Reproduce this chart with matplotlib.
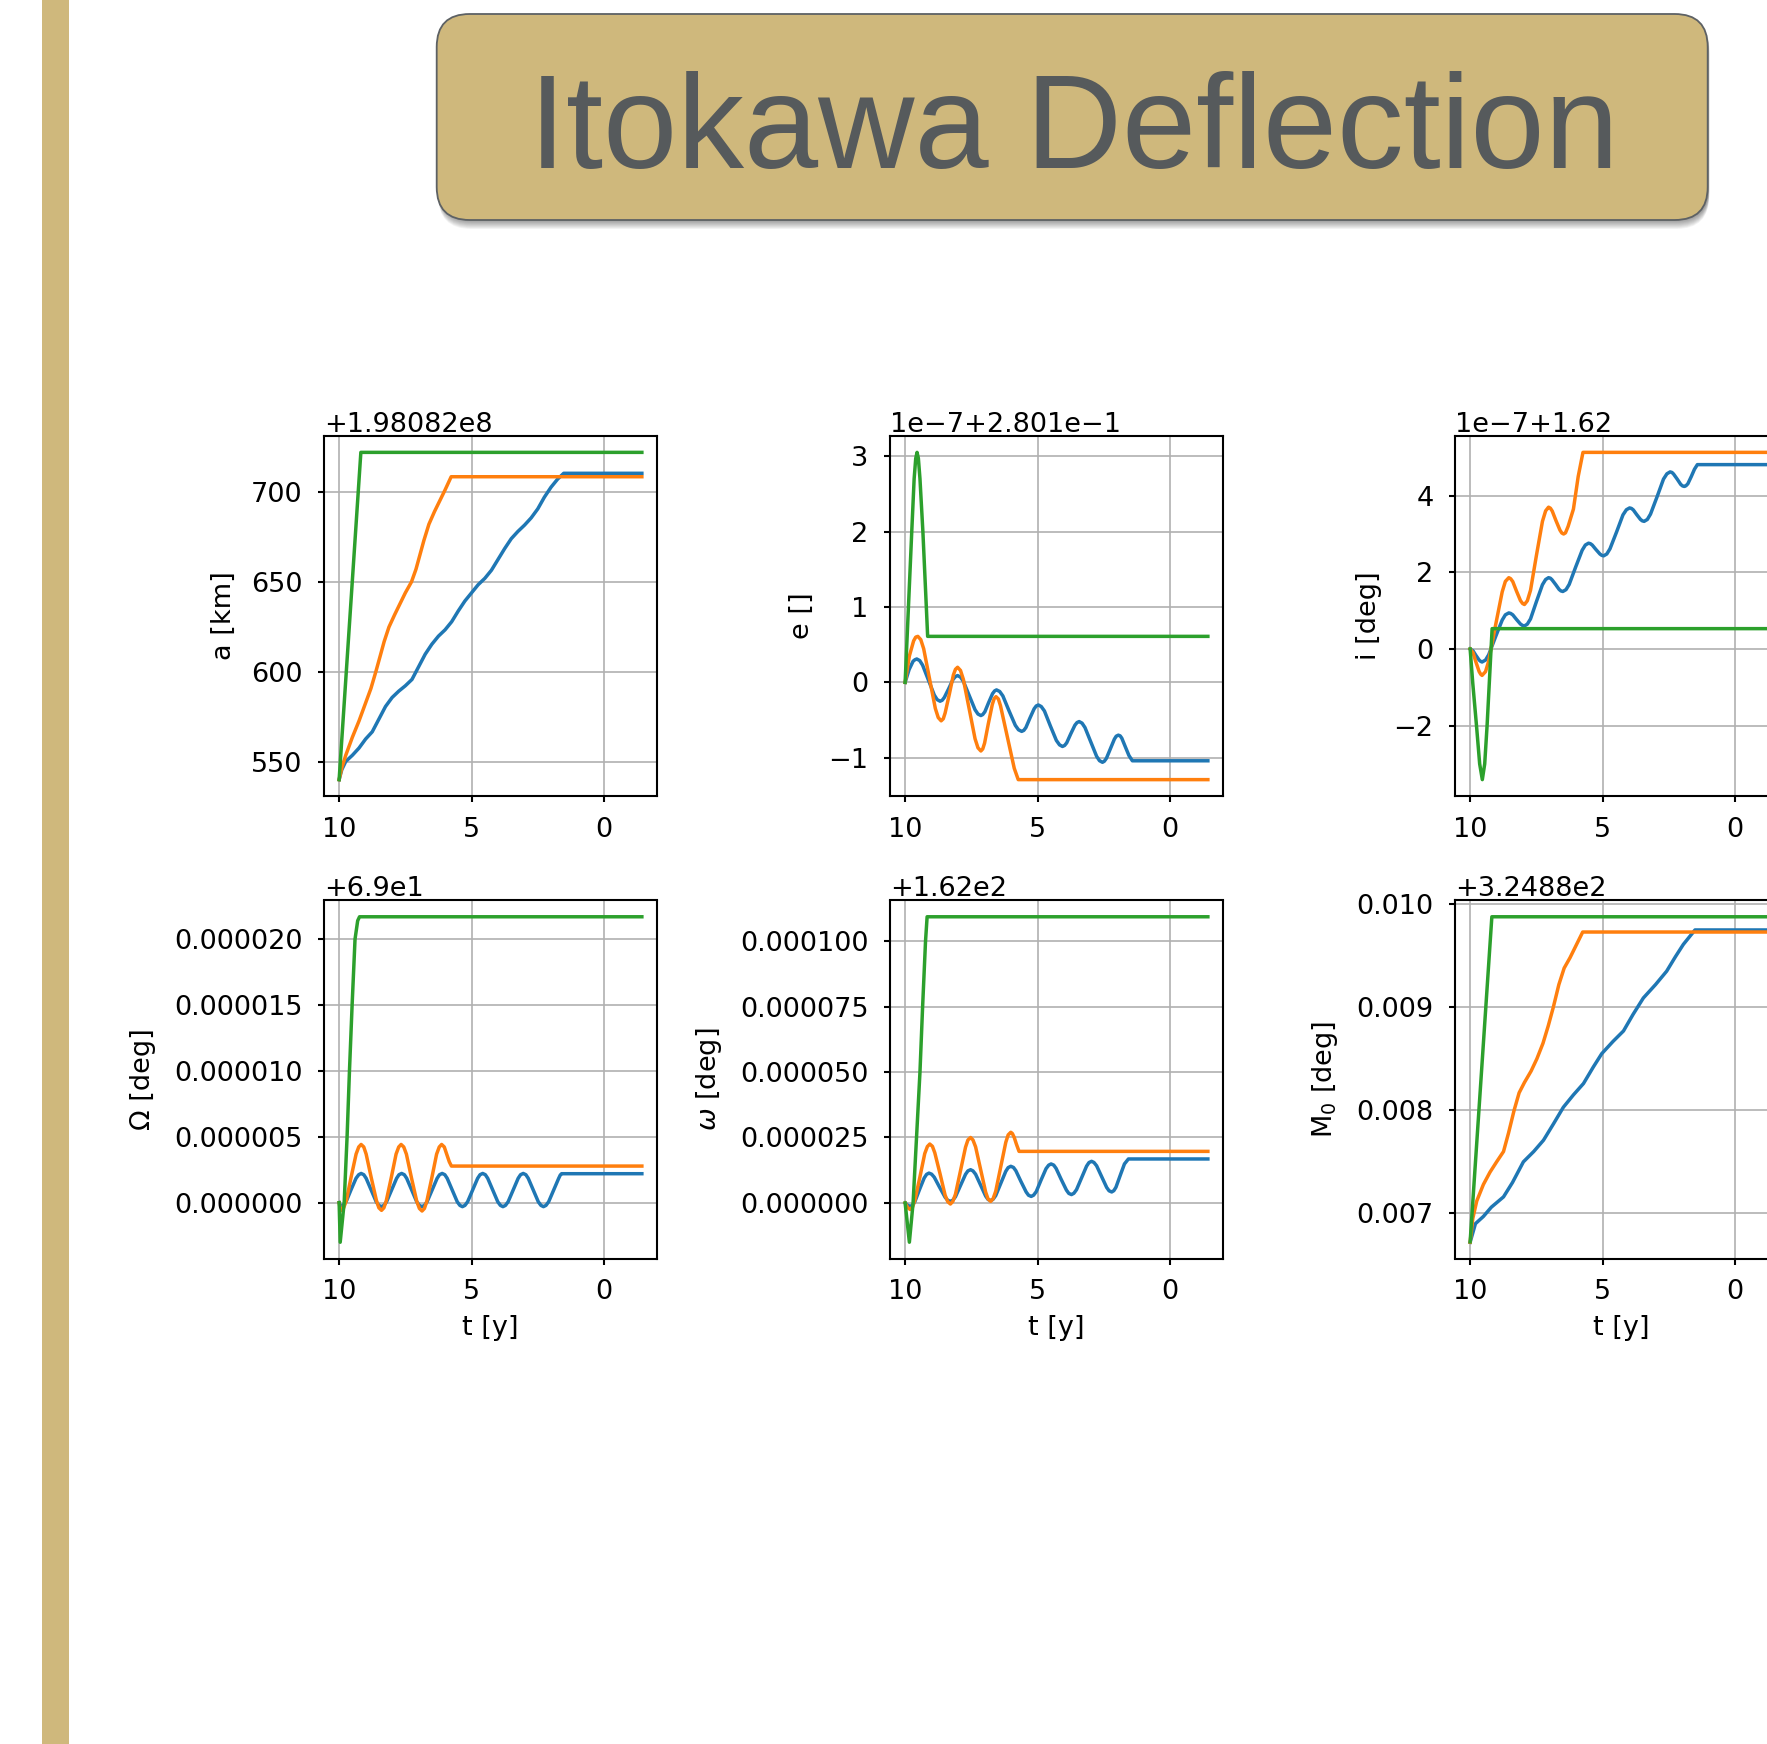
import numpy as np
import matplotlib
matplotlib.use("Agg")
import matplotlib.pyplot as plt
from matplotlib.patches import FancyBboxPatch, Rectangle
from matplotlib.ticker import MaxNLocator

# ---------------------------------------------------------------------------
# Orbital elements of Itokawa during deflection, three thrust durations.
# Time t in years; each element is stored as a deviation from a base value.
# ---------------------------------------------------------------------------

# semi-major axis a [km]  (base 1.98082e8 km)
A_BASE = 198082000.0
t_a_blue = [10.0, 9.9, 9.75, 9.5, 9.25, 9.0, 8.75, 8.5, 8.25, 8.0, 7.75, 7.5,
            7.25, 7.0, 6.75, 6.5, 6.25, 6.0, 5.75, 5.5, 5.25, 5.0, 4.75, 4.5,
            4.25, 4.0, 3.75, 3.5, 3.25, 3.0, 2.75, 2.5, 2.25, 2.0, 1.75, 1.52,
            -1.43]
a_blue = [540.5, 546.0, 550.6, 554.0, 558.0, 563.0, 567.0, 574.0, 581.0, 586.0,
          589.5, 592.5, 596.0, 603.0, 610.0, 615.5, 620.0, 623.5, 628.0, 634.0,
          639.5, 644.0, 648.5, 652.0, 656.5, 662.5, 668.5, 674.0, 678.0, 681.5,
          685.5, 690.5, 697.0, 702.5, 707.0, 710.2, 710.2]
t_a_orange = [10.0, 9.9, 9.75, 9.5, 9.25, 9.0, 8.8, 8.62, 8.45, 8.3, 8.12, 7.9,
              7.7, 7.5, 7.27, 7.1, 6.95, 6.8, 6.61, 6.4, 6.2, 6.0, 5.77, -1.43]
a_orange = [540.5, 547, 554, 564, 573, 583, 591, 600, 609, 617, 625, 632, 638,
            644, 650, 657, 665, 673, 682, 689, 695, 701, 708.3, 708.3]
t_a_green = [10.0, 9.18, -1.43]
a_green = [540.5, 721.8, 721.8]

# eccentricity e  (base 0.2801, unit 1e-7)
E_BASE = 0.2801
t_e_blue = [10.0, 9.85, 9.7, 9.63, 9.56,
            9.45, 9.34, 9.12, 8.90, 8.79, 8.68,
            8.60, 8.52, 8.35, 8.19, 8.10, 8.02,
            7.91, 7.80, 7.58, 7.36, 7.25, 7.14,
            7.07, 6.99, 6.85, 6.70, 6.62, 6.55,
            6.43, 6.31, 6.08, 5.84, 5.72, 5.60,
            5.52, 5.44, 5.29, 5.13, 5.05, 4.97,
            4.86, 4.74, 4.52, 4.29, 4.17, 4.06,
            3.98, 3.90, 3.75, 3.59, 3.51, 3.43,
            3.32, 3.21, 2.99, 2.77, 2.66, 2.55,
            2.48, 2.40, 2.25, 2.10, 2.03, 1.95,
            1.88, 1.82, 1.68, 1.55, 1.42, -1.43]
e_blue = [0.0, 0.17, 0.28, 0.30, 0.31,
          0.289, 0.228, 0.03, -0.168, -0.229, -0.25,
          -0.237, -0.20, -0.08, 0.04, 0.077, 0.09,
          0.07, 0.013, -0.175, -0.363, -0.42, -0.44,
          -0.427, -0.39, -0.27, -0.15, -0.113, -0.10,
          -0.121, -0.18, -0.375, -0.57, -0.629, -0.65,
          -0.637, -0.599, -0.475, -0.351, -0.313, -0.30,
          -0.321, -0.38, -0.575, -0.77, -0.829, -0.85,
          -0.837, -0.802, -0.685, -0.568, -0.533, -0.52,
          -0.541, -0.599, -0.79, -0.981, -1.039, -1.06,
          -1.046, -1.007, -0.88, -0.753, -0.714, -0.70,
          -0.71, -0.74, -0.86, -0.97, -1.04, -1.04]
t_e_orange = [10.0, 9.84, 9.68, 9.60, 9.52,
              9.41, 9.30, 9.08, 8.86, 8.75, 8.64,
              8.56, 8.49, 8.33, 8.18, 8.10, 8.02,
              7.91, 7.80, 7.58, 7.36, 7.25, 7.14,
              7.07, 7.00, 6.86, 6.71, 6.64, 6.57,
              6.48, 6.40, 6.13, 5.88, 5.73, -1.43]
e_orange = [0.0, 0.35, 0.55, 0.60, 0.61,
            0.567, 0.446, 0.05, -0.346, -0.467, -0.51,
            -0.483, -0.406, -0.155, 0.096, 0.173, 0.20,
            0.158, 0.038, -0.355, -0.748, -0.868, -0.91,
            -0.883, -0.805, -0.55, -0.295, -0.217, -0.19,
            -0.22, -0.31, -0.74, -1.14, -1.29, -1.29]
t_e_green = [10.0, 9.75, 9.66, 9.60, 9.55, 9.50, 9.44, 9.33, 9.20, 9.15, -1.43]
e_green = [0.0, 2.0, 2.7, 2.97, 3.05, 2.97, 2.7, 2.0, 1.0, 0.61, 0.61]

# inclination i [deg]  (base 1.62, unit 1e-7)
I_BASE = 1.62
t_i_blue = [10.0, 9.89, 9.78, 9.66, 9.60, 9.55,
            9.42, 9.30, 9.05, 8.79, 8.67, 8.54,
            8.47, 8.39, 8.25, 8.10, 8.02, 7.95,
            7.84, 7.72, 7.50, 7.27, 7.15, 7.04,
            6.97, 6.91, 6.77, 6.64, 6.57, 6.50,
            6.38, 6.26, 6.02, 5.77, 5.65, 5.53,
            5.46, 5.39, 5.25, 5.10, 5.03, 4.96,
            4.84, 4.72, 4.47, 4.23, 4.10, 3.98,
            3.91, 3.84, 3.71, 3.57, 3.50, 3.43,
            3.31, 3.19, 2.94, 2.70, 2.57, 2.45,
            2.38, 2.32, 2.18, 2.05, 1.98, 1.91,
            1.85, 1.78, 1.65, 1.53, 1.42, -1.43]
i_blue = [0.0, -0.05, -0.17, -0.29, -0.325, -0.34,
          -0.291, -0.153, 0.30, 0.753, 0.891, 0.94,
          0.927, 0.89, 0.77, 0.65, 0.613, 0.60,
          0.648, 0.784, 1.23, 1.676, 1.812, 1.86,
          1.846, 1.807, 1.68, 1.553, 1.514, 1.50,
          1.548, 1.684, 2.13, 2.576, 2.712, 2.76,
          2.747, 2.712, 2.595, 2.478, 2.443, 2.43,
          2.478, 2.613, 3.055, 3.498, 3.633, 3.68,
          3.667, 3.629, 3.505, 3.381, 3.343, 3.33,
          3.379, 3.518, 3.975, 4.432, 4.571, 4.62,
          4.606, 4.565, 4.43, 4.295, 4.254, 4.24,
          4.26, 4.31, 4.50, 4.69, 4.81, 4.81]
t_i_orange = [10.0, 9.89, 9.78, 9.66, 9.60, 9.55,
              9.42, 9.30, 9.05, 8.79, 8.67, 8.54,
              8.47, 8.39, 8.25, 8.10, 8.02, 7.95,
              7.84, 7.72, 7.50, 7.27, 7.15, 7.04,
              6.97, 6.90, 6.76, 6.61, 6.54, 6.47,
              6.40, 6.30, 6.10, 5.92, 5.74, -1.43]
i_orange = [0.0, -0.10, -0.345, -0.59, -0.66, -0.69,
            -0.593, -0.318, 0.585, 1.488, 1.763, 1.86,
            1.833, 1.758, 1.51, 1.262, 1.187, 1.16,
            1.257, 1.531, 2.43, 3.329, 3.603, 3.70,
            3.673, 3.598, 3.35, 3.102, 3.027, 3.00,
            3.03, 3.2, 3.65, 4.5, 5.13, 5.13]
t_i_green = [10.0, 9.9, 9.76, 9.64, 9.54, 9.45, 9.36, 9.21, 9.17, -1.43]
i_green = [0.0, -0.9, -2.0, -3.0, -3.41, -3.0, -2.0, 0.0, 0.53, 0.53]

# longitude of ascending node Omega [deg]  (base 69, unit 1e-6)
RAAN_BASE = 69.0
t_raan_blue = [10.0, 9.96, 9.92, 9.83, 9.73, 9.55, 9.36, 9.26, 9.17,
               9.07, 8.98, 8.79, 8.60, 8.50, 8.405,
               8.31, 8.21, 8.02, 7.83, 7.74, 7.64,
               7.54, 7.45, 7.26, 7.07, 6.97, 6.875,
               6.78, 6.68, 6.49, 6.30, 6.21, 6.11,
               6.01, 5.92, 5.73, 5.54, 5.44, 5.345,
               5.25, 5.15, 4.96, 4.77, 4.68, 4.58,
               4.48, 4.39, 4.20, 4.01, 3.91, 3.815,
               3.72, 3.62, 3.43, 3.24, 3.15, 3.05,
               2.95, 2.86, 2.67, 2.48, 2.38, 2.285,
               2.19, 2.09, 1.90, 1.71, 1.65, 1.60, -1.43]
raan_blue = [0.0, -0.2, -0.25, -0.16, 0.11, 0.985, 1.86, 2.126, 2.22,
             2.124, 1.852, 0.96, 0.068, -0.204, -0.3,
             -0.204, 0.068, 0.96, 1.852, 2.124, 2.22,
             2.124, 1.852, 0.96, 0.068, -0.204, -0.3,
             -0.204, 0.068, 0.96, 1.852, 2.124, 2.22,
             2.124, 1.852, 0.96, 0.068, -0.204, -0.3,
             -0.204, 0.068, 0.96, 1.852, 2.124, 2.22,
             2.124, 1.852, 0.96, 0.068, -0.204, -0.3,
             -0.204, 0.068, 0.96, 1.852, 2.124, 2.22,
             2.124, 1.852, 0.96, 0.068, -0.204, -0.3,
             -0.204, 0.068, 0.96, 1.852, 2.1, 2.2, 2.2]
t_raan_orange = [10.0, 9.96, 9.92, 9.83, 9.73, 9.55, 9.36, 9.26, 9.17,
                 9.07, 8.98, 8.79, 8.59, 8.50, 8.40,
                 8.31, 8.22, 8.03, 7.85, 7.75, 7.66,
                 7.56, 7.46, 7.27, 7.07, 6.97, 6.87,
                 6.78, 6.69, 6.50, 6.32, 6.22, 6.13,
                 6.03, 5.94, 5.84, 5.76, -1.43]
raan_orange = [0.0, -0.45, -0.58, -0.39, 0.15, 1.92, 3.69, 4.23, 4.42,
               4.23, 3.69, 1.92, 0.15, -0.39, -0.58,
               -0.39, 0.15, 1.92, 3.69, 4.23, 4.42,
               4.228, 3.683, 1.895, 0.107, -0.438, -0.63,
               -0.438, 0.107, 1.895, 3.683, 4.228, 4.42,
               4.23, 3.69, 3.1, 2.78, 2.78]
t_raan_green = [10.0, 9.96, 9.81, 9.70, 9.61, 9.51, 9.40, 9.30, 9.23, -1.43]
raan_green = [0.0, -3.0, 0.0, 5.0, 10.0, 15.0, 20.0, 21.4, 21.7, 21.7]

# argument of periapsis omega [deg]  (base 162, unit 1e-6)
ARGP_BASE = 162.0
t_argp_blue = [10.0, 9.9, 9.81,
               9.72, 9.63, 9.46, 9.28, 9.19, 9.10,
               9.00, 8.90, 8.70, 8.49, 8.39, 8.29,
               8.20, 8.10, 7.91, 7.72, 7.63, 7.53,
               7.44, 7.34, 7.15, 6.96, 6.87, 6.77,
               6.68, 6.58, 6.39, 6.20, 6.11, 6.01,
               5.91, 5.82, 5.63, 5.43, 5.34, 5.24,
               5.15, 5.05, 4.87, 4.68, 4.58, 4.49,
               4.39, 4.30, 4.11, 3.91, 3.82, 3.72,
               3.63, 3.53, 3.34, 3.15, 3.06, 2.96,
               2.87, 2.77, 2.58, 2.39, 2.30, 2.20,
               2.12, 2.04, 1.88, 1.72, 1.57, -1.43]
argp_blue = [0.0, -0.9, -1.3,
             -0.817, 0.554, 5.05, 9.546, 10.917, 11.4,
             10.99, 9.823, 6.0, 2.177, 1.01, 0.6,
             1.06, 2.367, 6.65, 10.933, 12.24, 12.7,
             12.252, 10.977, 6.8, 2.623, 1.348, 0.9,
             1.398, 2.813, 7.45, 12.087, 13.502, 14.0,
             13.563, 12.321, 8.25, 4.179, 2.937, 2.5,
             2.971, 4.31, 8.7, 13.09, 14.429, 14.9,
             14.455, 13.192, 9.05, 4.908, 3.645, 3.2,
             3.683, 5.054, 9.55, 14.046, 15.417, 15.9,
             15.455, 14.192, 10.05, 5.908, 4.645, 4.2,
             4.7, 6.0, 10.5, 14.9, 16.8, 16.8]
t_argp_orange = [10.0, 9.9, 9.81,
                 9.72, 9.63, 9.44, 9.26, 9.16, 9.07,
                 8.97, 8.88, 8.68, 8.49, 8.39, 8.29,
                 8.20, 8.10, 7.91, 7.72, 7.63, 7.53,
                 7.44, 7.34, 7.15, 6.96, 6.87, 6.77,
                 6.68, 6.58, 6.39, 6.20, 6.11, 6.01,
                 5.95, 5.88, 5.80, 5.70, -1.43]
argp_orange = [0.0, -1.8, -2.5,
               -1.55, 1.15, 10.0, 18.85, 21.55, 22.5,
               21.63, 19.157, 11.05, 2.943, 0.47, -0.4,
               0.565, 3.308, 12.3, 21.292, 24.035, 25.0,
               24.073, 21.438, 12.8, 4.162, 1.527, 0.6,
               1.603, 4.454, 13.8, 23.146, 25.997, 27.0,
               26.5, 25.0, 22.5, 19.7, 19.7]
t_argp_green = [10.0, 9.84, 9.70, 9.57, 9.44, 9.34, 9.23, 9.17, -1.43]
argp_green = [0.0, -15.0, 0.0, 25.0, 50.0, 75.0, 100.0, 109.3, 109.3]

# mean anomaly at epoch M0 [deg]  (base 324.88, unit 1e-3)
M0_BASE = 324.88
t_m0_blue = [10.0, 9.8, 9.5, 9.2, 8.74, 8.4, 7.99, 7.6, 7.23, 6.85, 6.48, 6.1,
             5.72, 5.35, 5.03, 4.6, 4.21, 3.85, 3.46, 3.0, 2.58, 2.25, 1.95,
             1.51, -1.43]
m0_blue = [6.72, 6.9, 6.97, 7.06, 7.16, 7.3, 7.5, 7.6, 7.71, 7.87, 8.03, 8.15,
           8.26, 8.42, 8.55, 8.67, 8.77, 8.93, 9.09, 9.22, 9.35, 9.49, 9.61,
           9.75, 9.75]
t_m0_orange = [10.0, 9.9, 9.75, 9.5, 9.25, 9.0, 8.74, 8.55, 8.34, 8.15, 7.95,
               7.7, 7.48, 7.25, 7.05, 6.86, 6.65, 6.45, 6.23, 6.0, 5.75, -1.43]
m0_orange = [6.72, 6.95, 7.12, 7.28, 7.40, 7.50, 7.60, 7.78, 8.0, 8.17, 8.27,
             8.38, 8.50, 8.65, 8.82, 9.0, 9.22, 9.38, 9.48, 9.6, 9.73, 9.73]
t_m0_green = [10.0, 9.18, -1.43]
m0_green = [6.724, 9.878, 9.878]

TITLE = "Itokawa Deflection"
YLABELS = ["a [km]", "e []", "i [deg]",
           "\u03a9 [deg]", r"$\omega$ [deg]", r"M$_0$ [deg]"]
XLABEL = "t [y]"

# ---------------------------------------------------------------------------
W, H, DPI = 1767, 1744, 100
GOLD = "#CFB87C"
SLATE = "#565A5C"
C_BLUE, C_ORANGE, C_GREEN = "#1f77b4", "#ff7f0e", "#2ca02c"

plt.rcParams.update({
    "font.family": ["DejaVu Sans"],
    "font.size": 19.5,
    "axes.formatter.limits": (-7, 7),
    "axes.linewidth": 1.5,
    "xtick.major.size": 4.5, "ytick.major.size": 4.5,
    "xtick.major.width": 1.5, "ytick.major.width": 1.5,
    "xtick.major.pad": 10.5, "ytick.major.pad": 11.0,
    "grid.color": "#b0b0b0", "grid.linewidth": 1.2,
    "lines.linewidth": 2.5,
    "lines.solid_joinstyle": "round",
})

fig = plt.figure(figsize=(W / DPI, H / DPI), dpi=DPI)
fig.patch.set_facecolor("white")

# page layer in pixel units
bg = fig.add_axes([0, 0, 1, 1])
bg.set_xlim(0, W)
bg.set_ylim(H, 0)
bg.axis("off")

bg.add_patch(Rectangle((42.3, 0), 26.7, H, facecolor=GOLD, edgecolor="none"))

bx0, by0, bx1, by1 = 436.7, 14.0, 1707.7, 220.0
for k in range(1, 11):
    bg.add_patch(FancyBboxPatch((bx0 + 1.5, by0 + k * 0.9), bx1 - bx0, by1 - by0,
                                boxstyle="round,pad=0,rounding_size=33",
                                facecolor="black", edgecolor="none",
                                alpha=0.045))
bg.add_patch(FancyBboxPatch((bx0, by0), bx1 - bx0, by1 - by0,
                            boxstyle="round,pad=0,rounding_size=33",
                            facecolor=GOLD, edgecolor="#5d6164", linewidth=1.3))
bg.text(1073.8, 168.3, TITLE, fontsize=96, family=["Liberation Sans"],
        color=SLATE, ha="center", va="baseline")

# chart grid (pixel positions on the page)
COL_LEFT = [324.0, 890.0, 1455.0]
AX_W = 333.0
ROWS = [(436.0, 360.0), (900.5, 358.0)]
YLABEL_X = [-0.26, -0.225, -0.22, -0.505, -0.50, -0.345]

panels = [
    (A_BASE, 1.0, [(t_a_blue, a_blue), (t_a_orange, a_orange), (t_a_green, a_green)]),
    (E_BASE, 1e-7, [(t_e_blue, e_blue), (t_e_orange, e_orange), (t_e_green, e_green)]),
    (I_BASE, 1e-7, [(t_i_blue, i_blue), (t_i_orange, i_orange), (t_i_green, i_green)]),
    (RAAN_BASE, 1e-6, [(t_raan_blue, raan_blue), (t_raan_orange, raan_orange),
                       (t_raan_green, raan_green)]),
    (ARGP_BASE, 1e-6, [(t_argp_blue, argp_blue), (t_argp_orange, argp_orange),
                       (t_argp_green, argp_green)]),
    (M0_BASE, 1e-3, [(t_m0_blue, m0_blue), (t_m0_orange, m0_orange),
                     (t_m0_green, m0_green)]),
]

for idx, (base, unit, series) in enumerate(panels):
    r, c = divmod(idx, 3)
    top, h = ROWS[r]
    left = COL_LEFT[c]
    ax = fig.add_axes([left / W, 1 - (top + h) / H, AX_W / W, h / H])
    for (t, v), col in zip(series, [C_BLUE, C_ORANGE, C_GREEN]):
        ax.plot(t, base + np.asarray(v) * unit, color=col)
    ax.invert_xaxis()
    ax.grid(True)
    ax.yaxis.set_major_locator(MaxNLocator(6, steps=[1, 2, 2.5, 5, 10]))
    ax.xaxis.set_major_locator(MaxNLocator(4, steps=[1, 2, 2.5, 5, 10]))
    ax.set_ylabel(YLABELS[idx])
    ax.yaxis.set_label_coords(YLABEL_X[idx], 0.5)
    if r == 1:
        ax.set_xlabel(XLABEL)
        ax.xaxis.set_label_coords(0.5, -0.158)

fig.savefig("out.png", dpi=DPI, facecolor="white")
